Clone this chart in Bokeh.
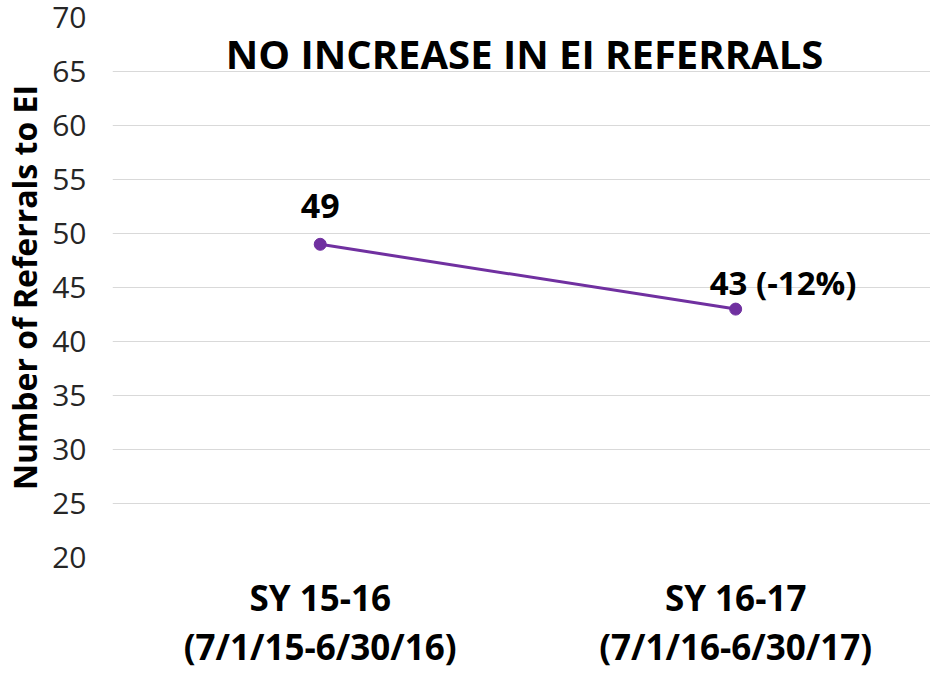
from bokeh.plotting import figure
from bokeh.models import Range1d, FixedTicker, Label
from bokeh.embed import file_html
from bokeh.resources import INLINE

# ---- data ----
categories = ["SY 15-16\n(7/1/15-6/30/16)", "SY 16-17\n(7/1/16-6/30/17)"]
referrals = [49, 43]
y_ticks = [20, 25, 30, 35, 40, 45, 50, 55, 60, 65, 70]
title_text = "NO INCREASE IN EI REFERRALS"
y_title = "Number of Referrals to EI"

pct = round((referrals[1] - referrals[0]) / referrals[0] * 100)
label_texts = [f"{referrals[0]}", f"{referrals[1]} ({pct}%)"]

xs = list(range(len(categories)))
PURPLE = "#7030A0"
FONT = "Open Sans"

p = figure(width=930, height=673, output_backend="svg", toolbar_location=None,
           x_range=Range1d(-0.5, 1.469), y_range=Range1d(y_ticks[0], y_ticks[-1]),
           min_border_left=111, min_border_right=0, min_border_top=17,
           min_border_bottom=116)
p.outline_line_color = None
p.background_fill_color = "white"
p.border_fill_color = "white"

p.line(xs, referrals, line_color=PURPLE, line_width=3)
p.scatter(xs, referrals, size=12, fill_color=PURPLE, line_color=PURPLE)

# axes
p.xaxis.ticker = FixedTicker(ticks=xs)
p.xaxis.major_label_overrides = {i: c for i, c in zip(xs, categories)}
p.xaxis.major_label_text_font = FONT
p.xaxis.major_label_text_font_style = "bold"
p.xaxis.major_label_text_font_size = "35px"
p.xaxis.major_label_text_color = "black"
p.xaxis.major_label_text_line_height = 1.05
p.xaxis.major_label_standoff = 16
p.xaxis.axis_line_color = None
p.xaxis.major_tick_line_color = None
p.xaxis.minor_tick_line_color = None
p.xaxis.major_tick_out = 0
p.xaxis.major_tick_in = 0
p.xaxis.minor_tick_out = 0

p.yaxis.ticker = FixedTicker(ticks=y_ticks)
p.yaxis.major_label_text_font = FONT
p.yaxis.major_label_text_font_size = "30px"
p.yaxis.major_label_text_color = "#262626"
p.yaxis.major_label_standoff = 26
p.yaxis.axis_line_color = None
p.yaxis.major_tick_line_color = None
p.yaxis.minor_tick_line_color = None
p.yaxis.major_tick_out = 0
p.yaxis.major_tick_in = 0
p.yaxis.minor_tick_out = 0
p.yaxis.axis_label = y_title
p.yaxis.axis_label_text_font = FONT
p.yaxis.axis_label_text_font_style = "bold"
p.yaxis.axis_label_text_font_size = "32px"
p.yaxis.axis_label_text_color = "black"
p.yaxis.axis_label_standoff = 3

p.xgrid.grid_line_color = None
p.ygrid.grid_line_color = "#d9d9d9"
p.ygrid.grid_line_width = 1

# data labels
p.add_layout(Label(x=xs[0], y=referrals[0], text=label_texts[0], text_align="center",
                   text_baseline="alphabetic", y_offset=38, text_font=FONT,
                   text_font_style="bold", text_font_size="34px", text_color="black"))
p.add_layout(Label(x=xs[1], y=referrals[1], text=label_texts[1], text_align="left",
                   text_baseline="alphabetic", x_offset=-26, y_offset=27, text_font=FONT,
                   text_font_style="bold", text_font_size="33px", text_color="black"))

# chart title inside plot area
p.add_layout(Label(x=412, y=504, x_units="screen", y_units="screen", text=title_text,
                   text_align="center", text_baseline="alphabetic", text_font=FONT,
                   text_font_style="bold", text_font_size="40px", text_color="black"))

open("out.html", "w").write(file_html(p, INLINE))
